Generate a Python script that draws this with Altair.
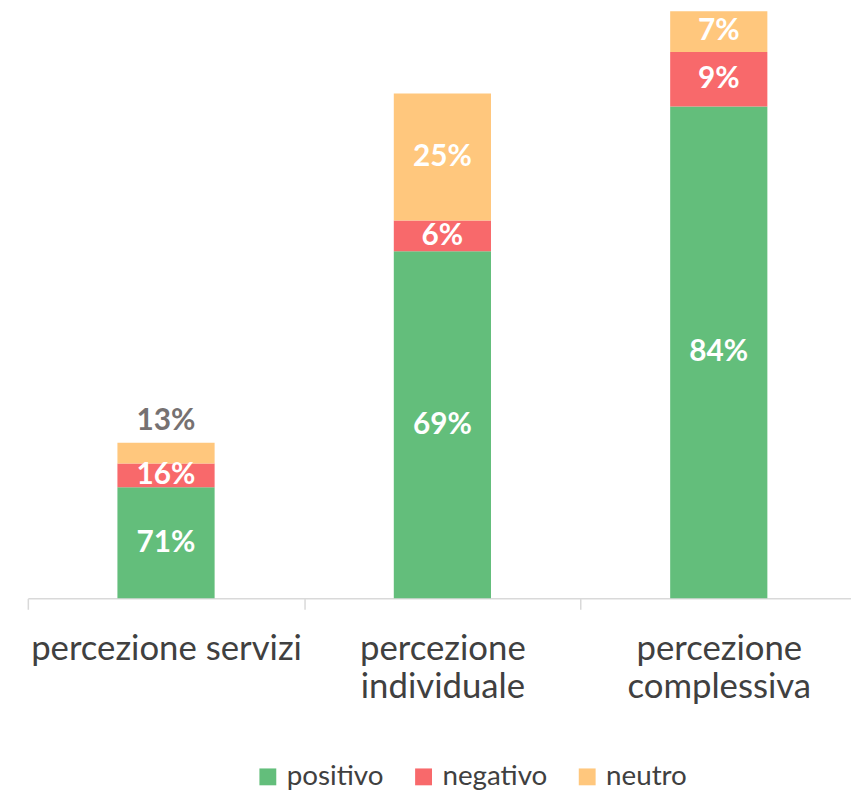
import altair as alt
import pandas as pd

categories = ["percezione servizi", "percezione\nindividuale", "percezione\ncomplessiva"]
series = ["positivo", "negativo", "neutro"]
positivo = [112, 350, 496]
negativo = [24, 31, 55]
neutro = [21, 128, 41]
lab_positivo = ["71%", "69%", "84%"]
lab_negativo = ["16%", "6%", "9%"]
lab_neutro = ["13%", "25%", "7%"]
outside = [[False, False, True], [False, False, False], [False, False, False]]  # per category: pos, neg, neu

rows = []
for i, c in enumerate(categories):
    for j, (s, vals, labs) in enumerate(zip(series, [positivo, negativo, neutro], [lab_positivo, lab_negativo, lab_neutro])):
        rows.append({"cat": c, "serie": s, "ord": j, "value": vals[i], "label": labs[i], "outside": outside[i][j]})
df = pd.DataFrame(rows)

FONT = "Lato"
colors = ["#63BE7B", "#F8696B", "#FFC77D"]

x = alt.X("cat:N", sort=categories, title=None,
          scale=alt.Scale(paddingInner=0, paddingOuter=0),
          axis=alt.Axis(labelExpr="split(datum.label, '\\n')", labelAngle=0,
                        labelFont=FONT, labelFontSize=35, labelColor="#404040",
                        labelLineHeight=38, labelPadding=23, tickSize=11, labelLimit=500,
                        tickBand="extent", domainColor="#D9D9D9", tickColor="#D9D9D9",
                        domainWidth=1.5, tickWidth=1.5, labelBaseline="top"))

base = alt.Chart(df).transform_stack(
    stack="value", groupby=["cat"], as_=["v0", "v1"], sort=[alt.SortField("ord")]
).transform_calculate(mid="(datum.v0 + datum.v1) / 2")

yscale = alt.Scale(domain=[0, 592], nice=False)

bars = base.mark_bar(size=98).encode(
    x=x,
    y=alt.Y("v0:Q", scale=yscale, axis=None),
    y2="v1:Q",
    color=alt.Color("serie:N", sort=series,
                    scale=alt.Scale(domain=series, range=colors),
                    legend=alt.Legend(title=None, orient="none", legendX=228, legendY=758,
                                      direction="horizontal", symbolType="square",
                                      symbolSize=289, symbolStrokeWidth=0,
                                      labelFont=FONT, labelFontSize=28, labelColor="#404040",
                                      labelOffset=5, columnPadding=26)),
    order=alt.Order("ord:Q"),
)

inside = base.transform_filter("!datum.outside").mark_text(
    font=FONT, fontSize=30, fontWeight="bold", color="white", baseline="middle"
).encode(x=alt.X("cat:N", sort=categories), y=alt.Y("mid:Q", scale=yscale), text="label:N")

outer = base.transform_filter("datum.outside").mark_text(
    font=FONT, fontSize=30, fontWeight="bold", color="#767171", baseline="middle", dy=-22
).encode(x=alt.X("cat:N", sort=categories), y=alt.Y("v1:Q", scale=yscale), text="label:N")

chart = alt.layer(bars, inside, outer).properties(
    width=836, height=592,
    autosize=alt.AutoSizeParams(type="none"),
    padding={"left": 20, "top": 0, "right": -6, "bottom": 193},
).configure_view(stroke=None)

chart.save("out.html", embed_options={"renderer": "svg", "actions": False})
